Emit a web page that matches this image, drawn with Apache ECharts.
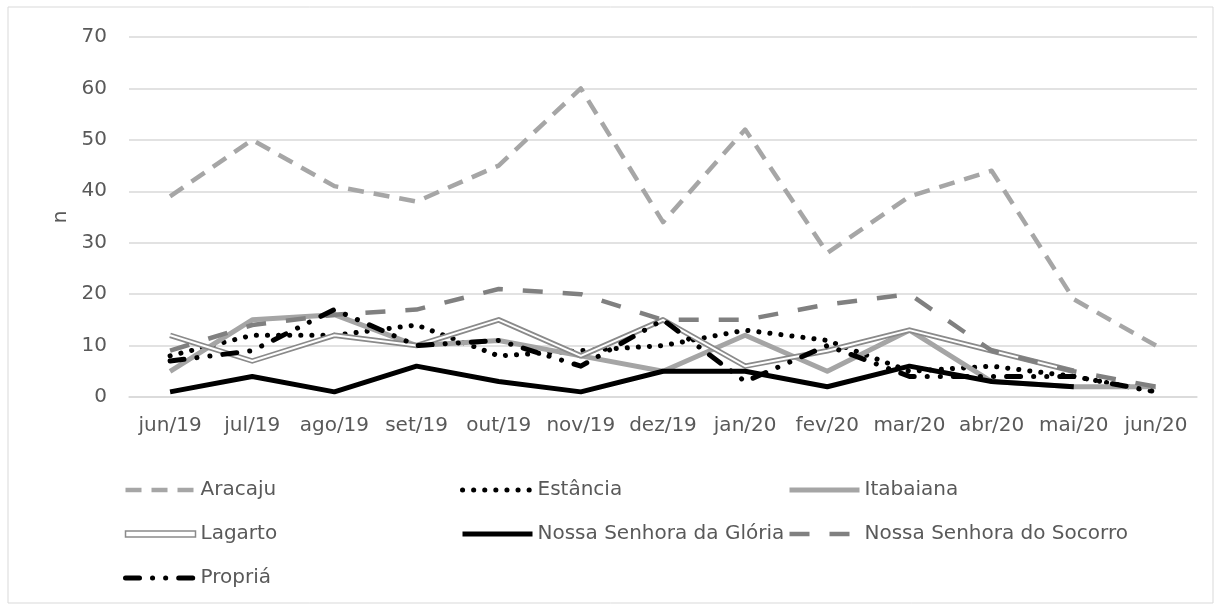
<!DOCTYPE html>
<html>
<head>
<meta charset="utf-8">
<script src="https://cdn.jsdelivr.net/npm/echarts@6/dist/echarts.min.js"></script>
<style>
	html, body { margin: 0; padding: 0; background: #fff; }
	#chart { width: 1222px; height: 610px; }
</style>
</head>
<body>
<div id="chart"></div>
<script>
var months = ['jun/19','jul/19','ago/19','set/19','out/19','nov/19','dez/19','jan/20','fev/20','mar/20','abr/20','mai/20','jun/20'];
var yTicks = [0, 10, 20, 30, 40, 50, 60, 70];

var aracaju  = [39, 50, 41, 38, 45, 60, 34, 52, 28, 39, 44, 19, 10];
var estancia = [8, 12, 12, 14, 8, 9, 10, 13, 11, 5, 6, 4, 1];
var itabaiana = [5, 15, 16, 10, 11, 8, 5, 12, 5, 13, 3, 2, 2];
var lagarto  = [12, 7, 12, 10, 15, 8, 15, 6, 9, 13, 9, 5, null];
var gloria   = [1, 4, 1, 6, 3, 1, 5, 5, 2, 6, 3, 2, null];
var socorro  = [9, 14, 16, 17, 21, 20, 15, 15, 18, 20, 9, 5, 2];
var propria  = [7, 9, 17, 10, 11, 6, 15, 3, 10, 4, 4, 4, 1];

var font = 'DejaVu Sans';
var textColor = '#595959';

function line(name, data, color, width, type, cap){
	return {
		name: name,
		type: 'line',
		data: data,
		symbol: 'none',
		showSymbol: false,
		connectNulls: false,
		lineStyle: {
			color: color,
			width: width,
			type: type || 'solid',
			cap: cap || 'butt',
			join: 'round'
		},
		itemStyle: { color: color }
	};
}

function legendBlock(left, names){
	return {
		orient: 'vertical',
		left: left,
		top: 475,
		itemWidth: 70,
		itemHeight: 14,
		itemGap: 24,
		selectedMode: false,
		itemStyle: { opacity: 0 },
		lineStyle: { width: 'inherit' },
		textStyle: { fontFamily: font, fontSize: 20, color: textColor },
		data: names
	};
}

var option = {
	animation: false,
	backgroundColor: '#fff',
	graphic: [{
		type: 'rect',
		shape: { x: 8, y: 7, width: 1205, height: 596 },
		style: { fill: 'none', stroke: '#d9d9d9', lineWidth: 1 },
		silent: true
	}],
	grid: { left: 129, right: 25, top: 37, bottom: 213 },
	legend: [
		legendBlock(118, ['Aracaju', {
			name: 'Lagarto',
			icon: 'path://M0,0 L70,0 L70,6 L0,6 Z',
			itemStyle: { color: '#fff', borderColor: '#8a8a8a', borderWidth: 1.5, opacity: 1 }
		}, 'Propriá']),
		legendBlock(455, ['Estância', 'Nossa Senhora da Glória']),
		legendBlock(782, ['Itabaiana', 'Nossa Senhora do Socorro'])
	],
	xAxis: {
		type: 'category',
		data: months,
		boundaryGap: true,
		axisTick: { show: false },
		axisLine: { lineStyle: { color: '#d9d9d9', width: 1.5 } },
		axisLabel: { interval: 0, fontFamily: font, fontSize: 20, color: textColor, margin: 19 }
	},
	yAxis: {
		type: 'value',
		min: yTicks[0],
		max: yTicks[yTicks.length - 1],
		interval: 10,
		name: 'n',
		nameLocation: 'middle',
		nameGap: 58,
		nameRotate: 90,
		nameTextStyle: { fontFamily: font, fontSize: 20, color: textColor },
		axisLine: { show: false },
		axisTick: { show: false },
		splitLine: { lineStyle: { color: '#d9d9d9', width: 1.5 } },
		axisLabel: { fontFamily: font, fontSize: 20, color: textColor, margin: 22 }
	},
	series: [
		line('Aracaju', aracaju, '#a6a6a6', 4.5, [16, 10]),
		line('Estância', estancia, '#000', 5, [0.1, 11], 'round'),
		line('Itabaiana', itabaiana, '#a5a5a5', 5),
		line('Lagarto', lagarto, '#8a8a8a', 5.5),
		line('Lagarto_in', lagarto, '#fff', 2),
		line('Nossa Senhora da Glória', gloria, '#000', 5),
		line('Nossa Senhora do Socorro', socorro, '#808080', 4.5, [20, 20]),
		line('Propriá', propria, '#000', 5, [14, 13, 0.1, 13, 0.1, 13], 'round')
	]
};

var myChart = echarts.init(document.getElementById('chart'));
myChart.setOption(option);
</script>
</body>
</html>
